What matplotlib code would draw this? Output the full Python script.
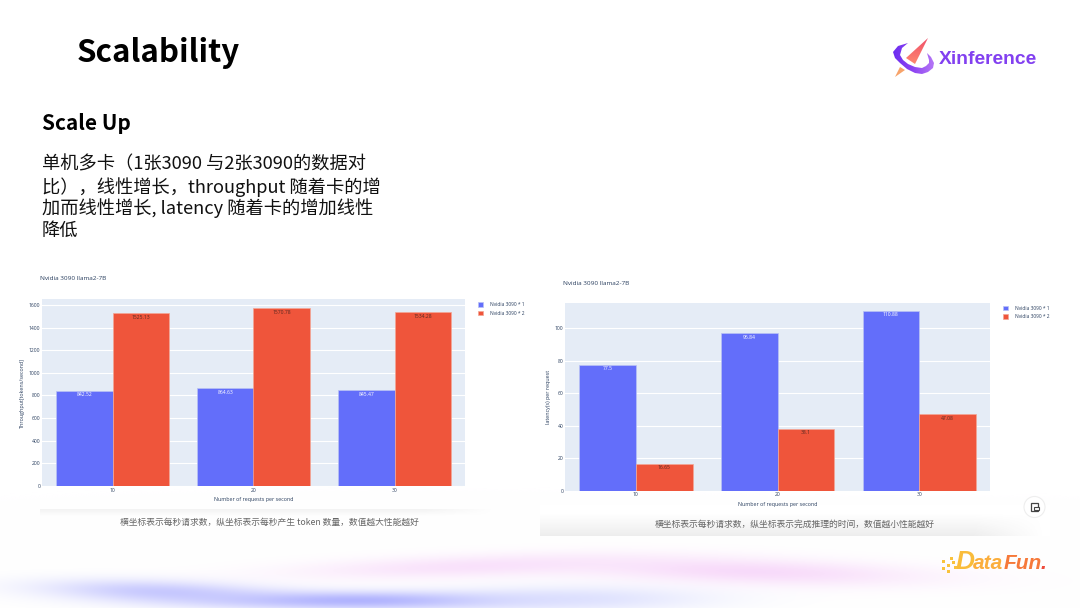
#!/usr/bin/env python3
import numpy as np
import matplotlib
matplotlib.use('Agg')
import matplotlib.pyplot as plt
from matplotlib.colors import LinearSegmentedColormap
from matplotlib.patches import Circle, Polygon, Rectangle

plt.rcParams['font.family'] = ['Noto Sans CJK SC', 'DejaVu Sans']

# data
categories = ['10', '20', '30']
series_names = ['Nvidia 3090 * 1', 'Nvidia 3090 * 2']
throughput_1 = [842.52, 864.63, 845.47]
throughput_2 = [1525.13, 1570.78, 1534.28]
latency_1 = [77.5, 96.84, 110.88]
latency_2 = [16.65, 38.1, 47.08]
throughput_ticks = [0, 200, 400, 600, 800, 1000, 1200, 1400, 1600]
latency_ticks = [0, 20, 40, 60, 80, 100]

W, H = 1080, 608
BLUE = '#636EFA'
RED = '#EF553B'
PLOT_BG = '#E5ECF6'
INK = '#2A3F5F'
CHART_FONT = ['Open Sans', 'DejaVu Sans']
LOGO_FONT = ['Liberation Sans', 'DejaVu Sans']

fig = plt.figure(figsize=(W / 100, H / 100), dpi=100, facecolor='white')


def px_axes(x0, y0, x1, y1, **kw):
    # axes from pixel coords, y counted from the top
    return fig.add_axes([x0 / W, 1 - y1 / H, (x1 - x0) / W, (y1 - y0) / H], **kw)


# page background in pixel coords
bg = px_axes(0, 0, W, H)
bg.axis('off')

yy, xx = np.mgrid[0:H, 0:W]
img = np.ones((H, W, 3))
periwinkle = (0.66, 0.67, 1.0)
pink = (0.97, 0.85, 0.98)
blobs = [
    # cx, cy, sx, sy, slope, colour, strength
    (160, 591, 115, 11, 0.03, periwinkle, 0.62),
    (360, 600, 160, 9, 0.0, periwinkle, 0.9),
    (580, 598, 130, 13, 0.0, (0.80, 0.82, 1.0), 0.55),
    (470, 566, 170, 11, -0.03, pink, 0.75),
    (750, 571, 170, 13, 0.03, pink, 0.95),
]
for cx, cy, sx, sy, m, col, k in blobs:
    a = k * np.exp(-((xx - cx) / sx) ** 2 - ((yy - cy - m * (xx - cx)) / sy) ** 2)
    for c in range(3):
        img[:, :, c] = img[:, :, c] * (1 - a) + col[c] * a
bg.imshow(img, extent=(0, W, H, 0), aspect='auto', zorder=0)


def shade(x0, x1, y0, y1, top_alpha, bottom_alpha, zorder):
    # soft gray band that fades out towards the right end
    alpha = np.outer(np.linspace(top_alpha, bottom_alpha, 24),
                     np.clip((x1 - np.linspace(x0, x1, 200)) / 70, 0, 1))
    rgba = np.zeros((24, 200, 4))
    rgba[:, :, :3] = 0.55
    rgba[:, :, 3] = alpha
    bg.imshow(rgba, extent=(x0, x1, y1, y0), aspect='auto', zorder=zorder)


# shadow strips under the two screenshots
shade(40, 495, 509, 516, 0.10, 0.0, 1)
bg.add_patch(Rectangle((540, 505), 510, 31, facecolor='white', edgecolor='none', zorder=1))
shade(540, 1045, 513, 536, 0.0, 0.15, 2)

# headings
bg.text(77, 53, 'Scalability', fontsize=22.5, fontweight='bold', color='black', ha='left', va='center', zorder=5)
bg.text(42, 124, 'Scale Up', fontsize=15, fontweight='bold', color='black', ha='left', va='center', zorder=5)
body = ['单机多卡（1张3090 与2张3090的数据对',
        '比），线性增长，throughput 随着卡的增',
        '加而线性增长, latency 随着卡的增加线性',
        '降低']
for line, y in zip(body, [164, 187, 208, 231]):
    bg.text(42, y, line, fontsize=13.15, color='#111111', ha='left', va='center', zorder=5)

# captions
bg.text(269, 522, '横坐标表示每秒请求数，纵坐标表示每秒产生 token 数量，数值越大性能越好',
        fontsize=6.3, color='#666666', ha='center', va='center', zorder=5)
bg.text(795, 524, '横坐标表示每秒请求数，纵坐标表示完成推理的时间，数值越小性能越好',
        fontsize=6.35, color='#666666', ha='center', va='center', zorder=5)

# chart titles
bg.text(40, 279, 'Nvidia 3090 llama2-7B', fontsize=4.6, color=INK, ha='left', va='center',
        family=CHART_FONT, zorder=5)
bg.text(563, 283.5, 'Nvidia 3090 llama2-7B', fontsize=4.6, color=INK, ha='left', va='center',
        family=CHART_FONT, zorder=5)

# Xinference logo
swoosh = Polygon([(908, 43), (898, 46), (893, 52), (895, 58), (900, 63), (907, 69), (915, 73), (922, 74),
                  (928, 72), (933, 68), (934, 63), (931, 57), (927, 53), (929, 60), (929, 63), (926, 66),
                  (922, 68), (915, 67), (908, 64), (903, 60), (900, 55), (902, 48)],
                 facecolor='none', edgecolor='none', zorder=5)
bg.add_patch(swoosh)
purple = LinearSegmentedColormap.from_list('swoosh', ['#6A2BF0', '#8E45F2', '#B678F6'])
im = bg.imshow(np.linspace(0, 1, 64).reshape(1, -1), extent=(892, 935, 75, 42), cmap=purple,
               aspect='auto', zorder=5)
im.set_clip_path(swoosh)
rocket = Polygon([(928, 38), (906, 58), (915, 64)], facecolor='none', edgecolor='none', zorder=6)
bg.add_patch(rocket)
coral = LinearSegmentedColormap.from_list('rocket', ['#F0506A', '#FF8A70'])
im = bg.imshow(np.linspace(0, 1, 64).reshape(-1, 1), extent=(905, 929, 65, 38), cmap=coral,
               aspect='auto', zorder=6)
im.set_clip_path(rocket)
bg.add_patch(Polygon([(895, 77), (900, 67), (905, 70)], facecolor='#F7A36A', edgecolor='none', zorder=6))
bg.text(939, 59, 'Xinference', fontsize=13.9, fontweight='bold', color='#8240F0',
        ha='left', va='center', family=LOGO_FONT, zorder=6)

# DataFun logo
for txt, x, size, col in [('D', 956, 19, '#F9BC3A'), ('ata', 973, 15, '#FBAE3C'),
                          ('Fun', 1004, 15, '#F6793A'), ('.', 1041, 15, '#EE4B3B')]:
    bg.text(x, 569, txt, fontsize=size, fontweight='bold', style='italic', color=col,
            ha='left', va='baseline', family=LOGO_FONT, zorder=6)
for dx, dy in [(942, 560), (947, 564), (942, 567), (950, 557), (952, 561), (947, 570), (954, 566)]:
    bg.add_patch(Rectangle((dx, dy), 2.6, 2.6, facecolor='#F9C23C', edgecolor='none', zorder=6))

# copy button
bg.add_patch(Circle((1034.5, 507), 10.5, facecolor='white', edgecolor='#EEEEEE', linewidth=0.8, zorder=6))
bg.add_patch(Rectangle((1031, 503), 6.5, 8, facecolor='none', edgecolor='#444444', linewidth=0.9, zorder=7))
bg.add_patch(Rectangle((1034, 507), 4.5, 3, facecolor='white', edgecolor='#444444', linewidth=0.8, zorder=7))

bg.set_xlim(0, W)
bg.set_ylim(H, 0)


def draw_chart(box, vals_1, vals_2, ticks, ymax, ylabel, legend_xy, label_gap):
    ax = px_axes(*box, facecolor=PLOT_BG, zorder=3)
    xs = np.arange(len(categories))
    b1 = ax.bar(xs - 0.2, vals_1, 0.4, color=BLUE, edgecolor='#B9C2F5', linewidth=0.5,
                label=series_names[0], zorder=3)
    b2 = ax.bar(xs + 0.2, vals_2, 0.4, color=RED, edgecolor='#F3A796', linewidth=0.5,
                label=series_names[1], zorder=3)
    for bars, vals, col in [(b1, vals_1, 'white'), (b2, vals_2, '#5A2A22')]:
        for rect, v in zip(bars, vals):
            ax.annotate(f'{v:g}', (rect.get_x() + rect.get_width() / 2, v), xytext=(0, -label_gap),
                        textcoords='offset points', ha='center', va='center', fontsize=3.6,
                        color=col, family=CHART_FONT, zorder=4)
    ax.set_xlim(-0.5, len(categories) - 0.5)
    ax.set_ylim(0, ymax)
    ax.set_xticks(xs, categories)
    ax.set_yticks(ticks)
    ax.grid(axis='y', color='white', linewidth=0.8, zorder=1)
    ax.set_axisbelow(True)
    ax.tick_params(length=0, labelsize=3.6, labelcolor=INK, pad=1.2)
    for lab in ax.get_xticklabels() + ax.get_yticklabels():
        lab.set_family(CHART_FONT)
    for s in ax.spines.values():
        s.set_visible(False)
    ax.set_xlabel('Number of requests per second', fontsize=3.9, color=INK, labelpad=3,
                  family=CHART_FONT)
    ax.set_ylabel(ylabel, fontsize=3.9, color=INK, labelpad=3, family=CHART_FONT)
    ax.legend(loc='upper left', bbox_to_anchor=(legend_xy[0] / W, 1 - legend_xy[1] / H),
              bbox_transform=fig.transFigure, frameon=False, prop={'family': CHART_FONT, 'size': 3.5},
              labelcolor=INK, handlelength=1.0, handleheight=1.0, handletextpad=1.4, labelspacing=0.75,
              borderpad=0, borderaxespad=0)
    return ax


draw_chart((42, 299, 465, 486), throughput_1, throughput_2, throughput_ticks, 1653,
           'Throughput[tokens/second]', (478, 302), 2.8)
draw_chart((565, 303, 990, 490.7), latency_1, latency_2, latency_ticks, 115.6,
           'latency(s) per request', (1003, 305.5), 2.8)

fig.savefig('out.png', dpi=100, facecolor='white')
